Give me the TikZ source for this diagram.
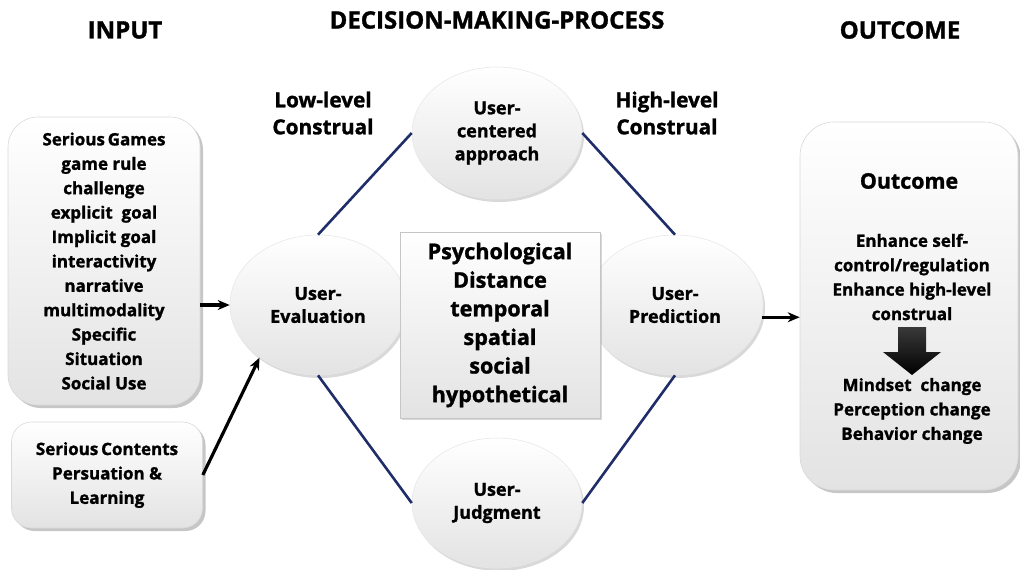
\documentclass[tikz,border=0pt]{standalone}
\usepackage{fontspec}
\setmainfont{Open Sans}[BoldFeatures={FakeBold=1.3}]
\usetikzlibrary{shapes.geometric,shadows,arrows.meta}

\definecolor{navyline}{RGB}{31,45,105}

\begin{document}
\begin{tikzpicture}[x=0.5pt,y=-0.5pt,
    font=\bfseries,
    headtext/.style={font=\bfseries\fontsize{12}{14}\selectfont},
    cardbox/.style={rounded corners=15pt, top color=white, bottom color=gray!22,
        draw=gray!30, line width=0.3pt, align=center, inner sep=0pt,
        drop shadow={shadow xshift=1.5pt, shadow yshift=-1.5pt, opacity=0.45}},
    userell/.style={ellipse, top color=white, bottom color=gray!22, draw=gray!18,
        line width=0.3pt, align=center, inner sep=0pt,
        font=\bfseries\fontsize{9}{11.5}\selectfont,
        drop shadow={shadow xshift=1pt, shadow yshift=-1.5pt, opacity=0.3}},
    navy/.style={draw=navyline, line width=1.3pt},
    feed/.style={-{Stealth[length=6pt,width=5pt]}, line width=1.6pt}]
                    \useasboundingbox (0,0) rectangle (1020,569);

                    % column titles
                    \node[headtext] (tin) at (125,30) {INPUT};
                    \node[headtext] (tdm) at (497,20) {DECISION-MAKING-PROCESS};
                    \node[headtext] (tout) at (900,30) {OUTCOME};

                    % inputs
                    \node[cardbox, minimum width=96pt, minimum height=144pt,
                          font=\bfseries\fontsize{8.5}{12.2}\selectfont] (games) at (104,261)
                        {Serious\,Games\\game rule\\challenge\\explicit\ \ goal\\Implicit goal\\interactivity\\narrative\\multimodality\\Specific\\Situation\\Social Use};
                    \node[cardbox, rounded corners=10pt, minimum width=95.5pt, minimum height=53pt,
                          font=\bfseries\fontsize{8.5}{12.2}\selectfont] (contents) at (107,475)
                        {Serious\,Contents\\Persuation \&\\Learning};

                    % the four user steps
                    \node[userell, minimum width=85pt, minimum height=66pt] (ucent) at (497,133) {User-\\centered\\approach};
                    \node[userell, minimum width=88pt, minimum height=70pt] (ueval) at (318,305) {User-\\Evaluation};
                    \node[userell, minimum width=88pt, minimum height=70pt] (upred) at (675,305) {User-\\Prediction};
                    \node[userell, minimum width=85pt, minimum height=65pt] (ujudg) at (497,503) {User-\\Judgment};

                    \draw[navy] (ueval.north) -- (ucent.west);
                    \draw[navy] (ucent.east) -- (upred.north);
                    \draw[navy] (ueval.south) -- (ujudg.west);
                    \draw[navy] (ujudg.east) -- (upred.south);

                    % distance box sits over the ellipses
                    \node[top color=white, bottom color=gray!22, draw=gray!45, line width=0.3pt,
                          minimum width=100pt, minimum height=93pt, inner sep=0pt, align=center,
                          font=\bfseries\fontsize{10.8}{14.3}\selectfont,
                          drop shadow={shadow xshift=0.8pt, shadow yshift=-0.8pt, opacity=0.3}] (psy) at (500,325)
                        {Psychological\\Distance\\temporal\\spatial\\social\\hypothetical};

                    \node[align=center, font=\bfseries\fontsize{10.4}{13.5}\selectfont] (low) at (323,113) {Low-level\\Construal};
                    \node[align=center, font=\bfseries\fontsize{10.4}{13.5}\selectfont] (high) at (667,113) {High-level\\Construal};

                    % outcome
                    \node[cardbox, rounded corners=17pt, minimum width=109pt, minimum height=184pt] (outbox) at (909,306) {};
                    \node[font=\bfseries\fontsize{10.7}{13}\selectfont] (otitle) at (909,181) {Outcome};
                    \node[align=center, font=\bfseries\fontsize{8.5}{12.2}\selectfont] (otop) at (912,277)
                        {Enhance self-\\control/regulation\\Enhance high-level\\construal};
                    \shade[top color=gray!45!black, bottom color=black]
                        (898,327) -- (926,327) -- (926,352) -- (941,352) -- (912,375)
                        -- (883,352) -- (898,352) -- cycle;
                    \node[align=center, font=\bfseries\fontsize{8.5}{12.2}\selectfont] (obot) at (912,411)
                        {Mindset\ \ change\\Perception change\\Behavior change};

                    \draw[feed] (games.east |- ueval.west) -- (ueval.west);
                    \draw[feed] (contents.east) -- (ueval.222);
                    \draw[feed] (upred.-8) -- (upred.-8 -| outbox.west);
                \end{tikzpicture}
\end{document}
